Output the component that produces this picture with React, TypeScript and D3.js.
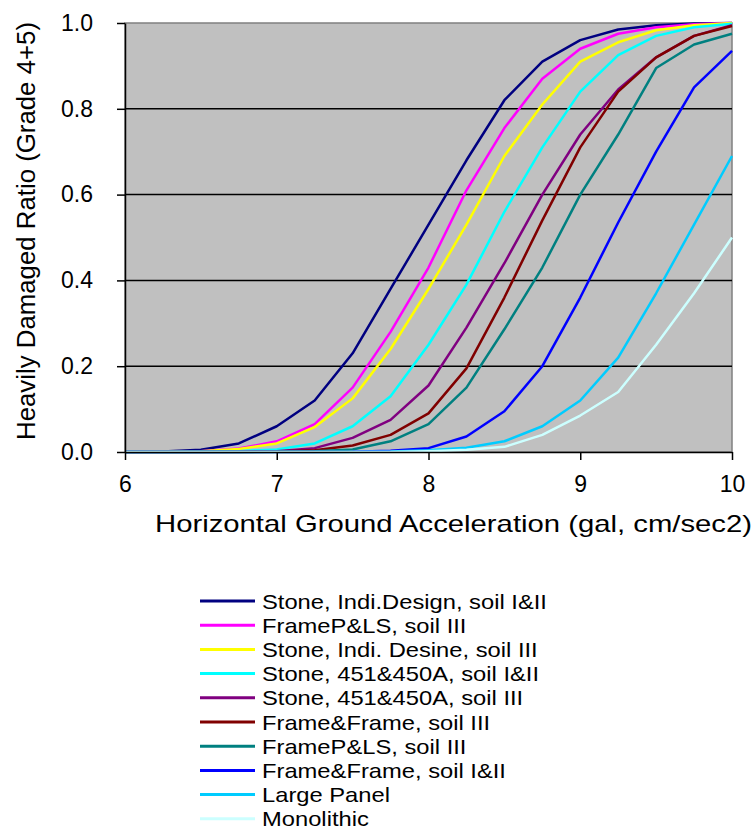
import React, { useEffect, useRef } from "react";
import * as d3 from "d3";

// acceleration samples (x axis)
const accel = [6, 6.25, 6.5, 6.75, 7, 7.25, 7.5, 7.75, 8, 8.25, 8.5, 8.75, 9, 9.25, 9.5, 9.75, 10];

const seriesNames = [
  "Stone, Indi.Design, soil I&II",
  "FrameP&LS, soil III",
  "Stone, Indi. Desine, soil III",
  "Stone, 451&450A, soil I&II",
  "Stone, 451&450A, soil III",
  "Frame&Frame, soil III",
  "FrameP&LS, soil III",
  "Frame&Frame, soil I&II",
  "Large Panel",
  "Monolithic",
];

const seriesColors = [
  "#000080",
  "#ff00ff",
  "#ffff00",
  "#00ffff",
  "#800080",
  "#800000",
  "#008080",
  "#0000ff",
  "#00ccff",
  "#ccffff",
];

// damaged ratio, one array per structure type
const stoneIndiI = [0, 0.001, 0.005, 0.02, 0.06, 0.12, 0.23, 0.38, 0.53, 0.68, 0.82, 0.91, 0.96, 0.985, 0.995, 0.999, 1];
const framePlsIII = [0, 0.0005, 0.002, 0.008, 0.025, 0.065, 0.15, 0.28, 0.43, 0.61, 0.755, 0.87, 0.94, 0.975, 0.99, 0.997, 1];
const stoneIndiIII = [0, 0.0005, 0.002, 0.007, 0.02, 0.058, 0.125, 0.24, 0.38, 0.53, 0.69, 0.81, 0.91, 0.955, 0.983, 0.995, 1];
const stone451I = [0, 0, 0.0005, 0.002, 0.006, 0.02, 0.06, 0.13, 0.25, 0.39, 0.56, 0.71, 0.84, 0.925, 0.97, 0.99, 0.998];
const stone451III = [0, 0, 0, 0.0005, 0.002, 0.009, 0.033, 0.075, 0.155, 0.29, 0.44, 0.6, 0.74, 0.845, 0.92, 0.97, 0.995];
const frameFrameIII = [0, 0, 0, 0, 0.001, 0.004, 0.015, 0.04, 0.09, 0.195, 0.36, 0.54, 0.71, 0.84, 0.92, 0.97, 0.993];
const framePlsIII2 = [0, 0, 0, 0, 0.0005, 0.002, 0.006, 0.025, 0.065, 0.15, 0.286, 0.43, 0.6, 0.74, 0.895, 0.95, 0.975];
const frameFrameI = [0, 0, 0, 0, 0, 0, 0.0005, 0.003, 0.009, 0.036, 0.095, 0.2, 0.36, 0.535, 0.7, 0.85, 0.935];
const largePanel = [0, 0, 0, 0, 0, 0, 0, 0.001, 0.004, 0.01, 0.025, 0.06, 0.12, 0.22, 0.37, 0.53, 0.69];
const monolithic = [0, 0, 0, 0, 0, 0, 0, 0, 0.002, 0.005, 0.012, 0.04, 0.085, 0.14, 0.25, 0.37, 0.5];

const seriesValues = [
  stoneIndiI,
  framePlsIII,
  stoneIndiIII,
  stone451I,
  stone451III,
  frameFrameIII,
  framePlsIII2,
  frameFrameI,
  largePanel,
  monolithic,
];

const xTicks = [6, 7, 8, 9, 10];
const yTicks = [0, 0.2, 0.4, 0.6, 0.8, 1.0];

const App = () => {
  const svgRef = useRef(null);
  const width = 755;
  const height = 835;

  useEffect(() => {
    const svg = d3.select(svgRef.current);
    svg.selectAll("*").remove();
    const font = "Arial, 'Liberation Sans', sans-serif";
    const left = 125;
    const right = 732;
    const top = 23;
    const bottom = 452;

    const xScale = d3.scaleLinear().domain([6, 10]).range([left, right]);
    const yScale = d3.scaleLinear().domain([0, 1]).range([bottom, top]);

    // plot area
    svg
      .append("rect")
      .attr("x", left)
      .attr("y", top)
      .attr("width", right - left)
      .attr("height", bottom - top)
      .attr("fill", "#c0c0c0")
      .attr("stroke", "#808080")
      .attr("stroke-width", 1.5);

    // gridlines
    svg
      .append("g")
      .selectAll("line")
      .data(yTicks.filter((t) => t > 0 && t < 1))
      .join("line")
      .attr("x1", left)
      .attr("x2", right)
      .attr("y1", (d) => yScale(d))
      .attr("y2", (d) => yScale(d))
      .attr("stroke", "#000")
      .attr("stroke-width", 1.5);

    // curves
    const line = d3
      .line()
      .x((d) => xScale(d[0]))
      .y((d) => yScale(d[1]));

    svg
      .append("g")
      .selectAll("path")
      .data(seriesValues)
      .join("path")
      .attr("d", (vals) => line(vals.map((v, i) => [accel[i], v])))
      .attr("fill", "none")
      .attr("stroke", (d, i) => seriesColors[i])
      .attr("stroke-width", 2.5)
      .attr("stroke-linejoin", "round");

    const xAxis = d3
      .axisBottom(xScale)
      .tickValues(xTicks)
      .tickFormat(d3.format("d"))
      .tickSizeOuter(0)
      .tickSizeInner(8)
      .tickPadding(16);

    const yAxis = d3
      .axisLeft(yScale)
      .tickValues(yTicks)
      .tickFormat(d3.format(".1f"))
      .tickSizeOuter(0)
      .tickSizeInner(8)
      .tickPadding(24);

    const gx = svg
      .append("g")
      .attr("transform", `translate(0, ${bottom})`)
      .call(xAxis);
    gx.select(".domain").attr("stroke", "#000").attr("stroke-width", 1.5);
    gx.selectAll(".tick line").attr("stroke-width", 1.5);
    gx.selectAll("text")
      .attr("font-size", 23)
      .attr("font-family", font)
      .attr("fill", "#000");

    const gy = svg
      .append("g")
      .attr("transform", `translate(${left}, 0)`)
      .call(yAxis);
    gy.select(".domain").attr("stroke", "#000").attr("stroke-width", 1.5);
    gy.selectAll(".tick line").attr("stroke-width", 1.5);
    gy.selectAll("text")
      .attr("font-size", 23)
      .attr("font-family", font)
      .attr("fill", "#000");

    // axis titles
    svg
      .append("text")
      .attr("x", 155)
      .attr("y", 532)
      .attr("font-size", 24)
      .attr("font-family", font)
      .attr("textLength", 597)
      .attr("lengthAdjust", "spacingAndGlyphs")
      .text("Horizontal Ground Acceleration (gal, cm/sec2)");

    svg
      .append("text")
      .attr("transform", `translate(35, 231) rotate(-90)`)
      .attr("text-anchor", "middle")
      .attr("font-size", 25)
      .attr("font-family", font)
      .attr("textLength", 418)
      .attr("lengthAdjust", "spacingAndGlyphs")
      .text("Heavily Damaged Ratio (Grade 4+5)");

    // legend (rows are tight, so glyphs are widened a little instead of a bigger font)
    const legend = svg
      .append("g")
      .selectAll("g")
      .data(seriesNames)
      .join("g")
      .attr("transform", (d, i) => `translate(200, ${601 + i * 24.2})`);

    legend
      .append("line")
      .attr("x1", 0)
      .attr("x2", 55)
      .attr("stroke", (d, i) => seriesColors[i])
      .attr("stroke-width", 3);

    legend
      .append("text")
      .attr("x", 62)
      .attr("dy", "0.36em")
      .attr("font-size", 21)
      .attr("font-family", font)
      .text((d) => d)
      .each(function () {
        const len = this.getComputedTextLength();
        d3.select(this)
          .attr("textLength", len * 1.13)
          .attr("lengthAdjust", "spacingAndGlyphs");
      });
  }, []);

  return (
    <svg
      ref={svgRef}
      width={width}
      height={height}
      style={{ position: "absolute", left: 0, top: 0, background: "#fff" }}
    ></svg>
  );
};

export default App;
